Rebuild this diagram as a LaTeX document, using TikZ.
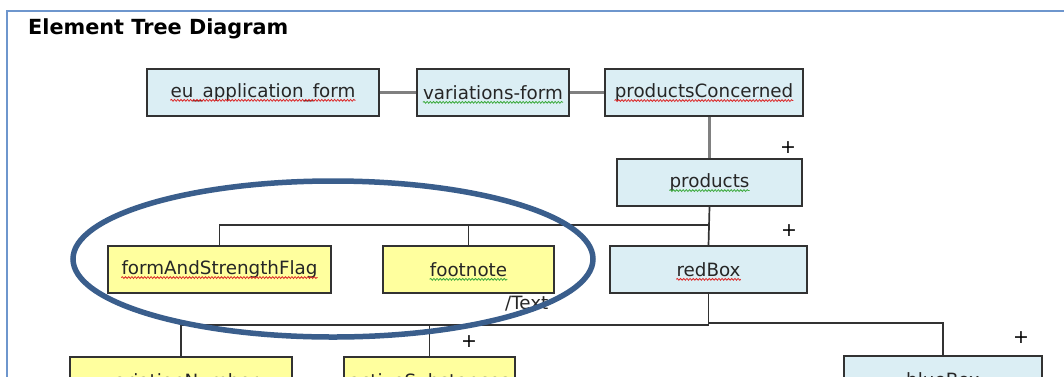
\documentclass[tikz,border=0pt]{standalone}
\usepackage{fontspec}
\setmainfont{DejaVu Sans}
\usetikzlibrary{decorations.pathmorphing}
\definecolor{boxblue}{RGB}{219,238,244}
\definecolor{boxyellow}{RGB}{255,255,158}
\definecolor{boxline}{RGB}{50,50,50}
\definecolor{topline}{RGB}{128,128,128}
\definecolor{framecol}{RGB}{110,150,205}
\definecolor{ovalcol}{RGB}{58,94,140}
\definecolor{sqred}{RGB}{220,40,40}
\definecolor{sqgreen}{RGB}{60,170,60}
\begin{document}
\begin{tikzpicture}[x=1pt,y=-1pt,
  box/.style={draw=boxline, line width=1.8pt, minimum height=47pt, inner sep=0pt, anchor=center},
  bluebox/.style={box, fill=boxblue},
  yelbox/.style={box, fill=boxyellow},
  txt/.style={inner sep=0pt, font=\fontsize{18.3}{22}\selectfont, text=black!85},
  conn/.style={draw=boxline, line width=1.7pt},
  topconn/.style={draw=topline, line width=2.6pt},
  sqr/.style={draw=sqred, line width=0.8pt, decorate, decoration={snake, amplitude=0.9pt, segment length=3.2pt}},
  sqg/.style={draw=sqgreen, line width=0.8pt, decorate, decoration={snake, amplitude=0.9pt, segment length=3.2pt}},
  plus/.style={inner sep=0pt, font=\fontsize{19}{22}\selectfont}
]
\useasboundingbox (0,0) rectangle (1064,376);
\clip (0,0) rectangle (1064,376);
\fill[white] (0,0) rectangle (1064,376);
% frame
\draw[framecol, line width=2.4pt] (7,400) -- (7,11) -- (1070,11);
\node[anchor=west, inner sep=0pt, font=\fontsize{20.8}{24}\selectfont\bfseries] (title) at (28,29) {Element Tree Diagram};

% boxes
\node[bluebox, minimum width=232pt] (eu) at (263,92.5) {};
\node[bluebox, minimum width=152pt] (vf) at (493,92.5) {};
\node[bluebox, minimum width=198pt] (pc) at (704,92.5) {};
\node[bluebox, minimum width=185pt] (prod) at (709.5,182.5) {};
\node[yelbox, minimum width=223pt] (fasf) at (219.5,269.5) {};
\node[yelbox, minimum width=171pt] (fn) at (468.5,269.5) {};
\node[bluebox, minimum width=197pt] (red) at (708.5,269.5) {};
\node[yelbox, minimum width=222pt] (vn) at (181,380.5) {};
\node[yelbox, minimum width=171pt] (as) at (429.5,380.5) {};
\node[bluebox, minimum width=198pt] (bb) at (943,379.5) {};

% texts
\node[txt] (eut) at (eu) {eu\_application\_form};
\node[txt] (vft) at (vf) {variations-form};
\node[txt] (pct) at (pc) {productsConcerned};
\node[txt] (prodt) at (prod) {products};
\node[txt] (fasft) at (fasf) {formAndStrengthFlag};
\node[txt] (fnt) at (fn) {footnote};
\node[txt] (redt) at (red) {redBox};
\node[txt] (vnt) at (vn) {variationNumber};
\node[txt] (ast) at (as) {activeSubstances};
\node[txt] (bbt) at (bb) {blueBox};

% squiggles
\draw[sqr] ([yshift=-3pt]eut.base west) -- ([yshift=-3pt]eut.base east);
\draw[sqg] ([yshift=-3pt]vft.base west) -- ([yshift=-3pt]vft.base east);
\draw[sqr] ([yshift=-3pt]pct.base west) -- ([yshift=-3pt]pct.base east);
\draw[sqg] ([yshift=-3pt]prodt.base west) -- ([yshift=-3pt]prodt.base east);
\draw[sqr] ([yshift=-3pt]fasft.base west) -- ([yshift=-3pt]fasft.base east);
\draw[sqg] ([yshift=-3pt]fnt.base west) -- ([yshift=-3pt]fnt.base east);
\draw[sqr] ([yshift=-3pt]redt.base west) -- ([yshift=-3pt]redt.base east);

% top connectors
\draw[topconn] (eu) -- (vf);
\draw[topconn] (vf) -- (pc);
\draw[topconn] (prod.north) -- (prod.north |- pc.south);

% lower connectors
\coordinate (b1) at (709,225);
\draw[conn] (fasf.north) |- (b1);
\draw[conn] (fn.north) -- (fn.north |- b1);
\draw[conn] (prod.south) -- (red.north);
\coordinate (b2) at (708.5,325);
\draw[conn] (vn.north) |- (b2) -- (red.south);
\draw[conn] (as.north) -- (as.north |- b2);
\coordinate (b3) at (708.5,323);
\draw[conn] (b3) -| (bb.north);

% plus signs and labels
\node[plus] (p1) at (788,148) {+};
\node[plus] (p2) at (789,231) {+};
\node[plus] (p3) at (469,342) {+};
\node[plus] (p4) at (1021,338) {+};
\node[txt, anchor=west] (textlbl) at (505,304) {/Text};

% highlight oval
\draw[ovalcol, line width=5.5pt] (333,259) ellipse [x radius=260, y radius=78];
\end{tikzpicture}
\end{document}
